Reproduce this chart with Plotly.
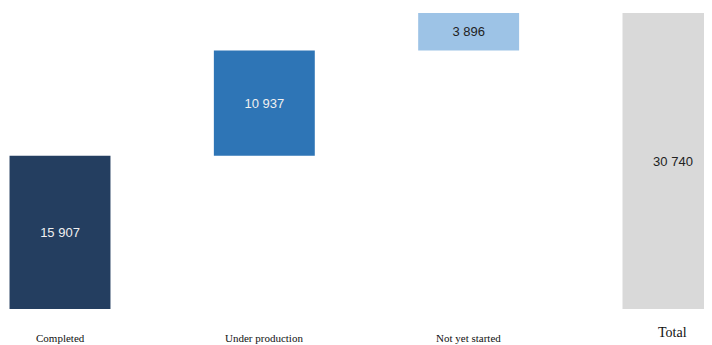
import plotly.graph_objects as go

categories = ["Completed", "Under production", "Not yet started", "Total"]
values = [15907, 10937, 3896, 30740]
bases = [0, 15907, 26844, 0]
labels = ["15 907", "10 937", "3 896", "30 740"]
colors = ["#243E60", "#2E75B6", "#9DC3E6", "#D9D9D9"]
text_colors = ["#F0F0F0", "#F0F0F0", "#222222", "#222222"]

xs = list(range(len(categories)))

fig = go.Figure()
fig.add_trace(go.Bar(
    x=xs, y=values, base=bases,
    width=0.494,
    marker=dict(color=colors, line=dict(width=0)),
    text=labels,
    textposition="inside",
    insidetextanchor="middle",
    textangle=0,
    textfont=dict(family="Liberation Sans, Arial, sans-serif", size=13, color=text_colors),
    hoverinfo="skip",
    cliponaxis=True,
))

label_sizes = [11, 11, 11, 14]
label_y = [-0.098, -0.098, -0.098, -0.081]
for i, c in enumerate(categories):
    fig.add_annotation(
        x=xs[i], y=label_y[i], xref="x", yref="paper",
        text=c, showarrow=False, yanchor="middle",
        font=dict(family="Liberation Serif, Times New Roman, serif", size=label_sizes[i], color="#111111"),
    )

fig.update_layout(
    width=704, height=337,
    margin=dict(l=0, r=0, t=5, b=36),
    paper_bgcolor="white", plot_bgcolor="white",
    showlegend=False,
    uniformtext=dict(mode=False),
    xaxis=dict(range=[-0.2545, 3.191], showticklabels=False, showgrid=False,
               zeroline=False, showline=False, ticks=""),
    yaxis=dict(range=[0, 30740], visible=False, showgrid=False, zeroline=False),
)

fig.write_html("out.html")
